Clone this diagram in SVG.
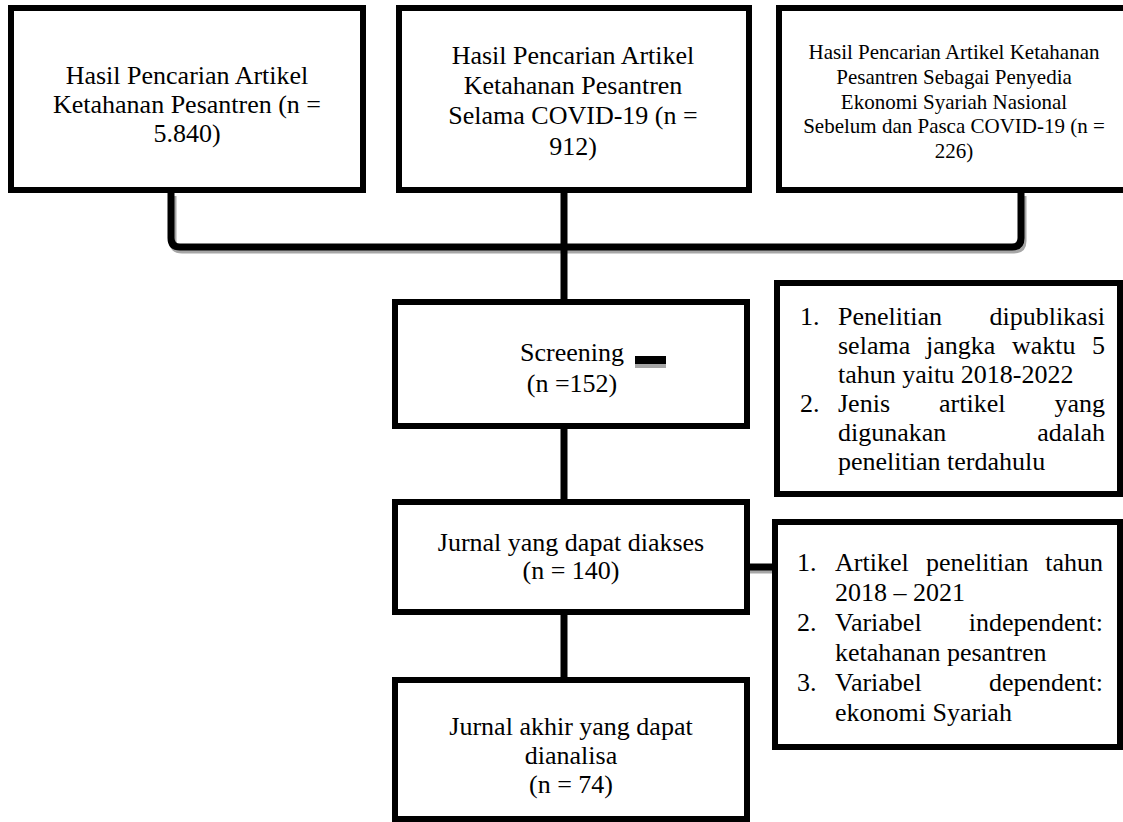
<svg xmlns="http://www.w3.org/2000/svg" width="1123" height="822" viewBox="0 0 1123 822">
<style>
.box{fill:#fff;stroke:#000;stroke-width:6}
.t{font-family:"Liberation Serif","Times New Roman",serif;font-size:26px;fill:#000}
.s{font-size:21px}
.c{text-anchor:middle}
.e{text-anchor:end}
.ln{fill:none;stroke:#000;stroke-width:7;stroke-linejoin:round}
.sh{fill:none;stroke:#a6a6a6;stroke-width:7;stroke-linejoin:round}
</style>
<rect width="1123" height="822" fill="#fff"/>
<g id="connectors">
<path class="sh" d="M173,196 L173,241 Q173,250 182,250 L1014,250 Q1023,250 1023,241 L1023,196"/>
<path class="ln" d="M171,193 L171,238 Q171,247 180,247 L1012,247 Q1021,247 1021,238 L1021,193"/>
<path class="ln" d="M564,193 L564,299"/>
<path class="ln" d="M564,429 L564,499"/>
<path class="ln" d="M564,615 L564,677"/>
<path class="sh" d="M750,570 L773,570"/>
<path class="ln" d="M750,567 L773,567"/>
</g>
<g id="n1">
<rect class="box" x="11" y="8" width="352" height="182"/>
<text class="t c" x="187" y="84">Hasil Pencarian Artikel</text>
<text class="t c" x="187" y="113">Ketahanan Pesantren (n =</text>
<text class="t c" x="187" y="142">5.840)</text>
</g>
<g id="n2">
<rect class="box" x="399" y="8" width="350" height="182"/>
<text class="t c" x="573" y="64">Hasil Pencarian Artikel</text>
<text class="t c" x="573" y="94">Ketahanan Pesantren</text>
<text class="t c" x="573" y="124">Selama COVID-19 (n =</text>
<text class="t c" x="573" y="155">912)</text>
</g>
<g id="n3">
<rect class="box" x="779" y="8" width="352" height="182"/>
<text class="t s c" x="954" y="59">Hasil Pencarian Artikel Ketahanan</text>
<text class="t s c" x="954" y="84">Pesantren Sebagai Penyedia</text>
<text class="t s c" x="954" y="109">Ekonomi Syariah Nasional</text>
<text class="t s c" x="954" y="133">Sebelum dan Pasca COVID-19 (n =</text>
<text class="t s c" x="954" y="158">226)</text>
</g>
<g id="screening">
<rect class="box" x="395" y="302" width="352" height="124"/>
<text class="t c" x="572" y="361">Screening</text>
<text class="t c" x="572" y="392">(n =152)</text>
<rect x="635" y="364" width="31" height="4" fill="#a6a6a6"/>
<rect x="635" y="356" width="31" height="8" fill="#000"/>
</g>
<g id="criteria1">
<rect class="box" x="777" y="283" width="343" height="211"/>
<text class="t" x="800" y="325">1.</text>
<text class="t" x="838" y="325">Penelitian</text>
<text class="t e" x="1105" y="325">dipublikasi</text>
<text class="t" x="838" y="354">selama</text>
<text class="t" x="926" y="354">jangka</text>
<text class="t" x="1012" y="354">waktu</text>
<text class="t e" x="1105" y="354">5</text>
<text class="t" x="838" y="383">tahun yaitu 2018-2022</text>
<text class="t" x="800" y="412">2.</text>
<text class="t" x="838" y="412">Jenis</text>
<text class="t" x="939" y="412">artikel</text>
<text class="t e" x="1105" y="412">yang</text>
<text class="t" x="838" y="441">digunakan</text>
<text class="t e" x="1105" y="441">adalah</text>
<text class="t" x="838" y="470">penelitian terdahulu</text>
</g>
<g id="jurnal">
<rect class="box" x="395" y="502" width="352" height="110"/>
<text class="t c" x="571" y="551">Jurnal yang dapat diakses</text>
<text class="t c" x="571" y="579">(n = 140)</text>
</g>
<g id="criteria2">
<rect class="box" x="775" y="522" width="345" height="225"/>
<text class="t" x="797" y="571">1.</text>
<text class="t" x="835" y="571">Artikel</text>
<text class="t" x="926" y="571">penelitian</text>
<text class="t e" x="1103" y="571">tahun</text>
<text class="t" x="835" y="601">2018 – 2021</text>
<text class="t" x="797" y="631">2.</text>
<text class="t" x="835" y="631">Variabel</text>
<text class="t e" x="1103" y="631">independent:</text>
<text class="t" x="835" y="661">ketahanan pesantren</text>
<text class="t" x="797" y="691">3.</text>
<text class="t" x="835" y="691">Variabel</text>
<text class="t e" x="1103" y="691">dependent:</text>
<text class="t" x="835" y="721">ekonomi Syariah</text>
</g>
<g id="final">
<rect class="box" x="395" y="680" width="352" height="139"/>
<text class="t c" x="571" y="735">Jurnal akhir yang dapat</text>
<text class="t c" x="571" y="764">dianalisa</text>
<text class="t c" x="571" y="793">(n = 74)</text>
</g>
</svg>
